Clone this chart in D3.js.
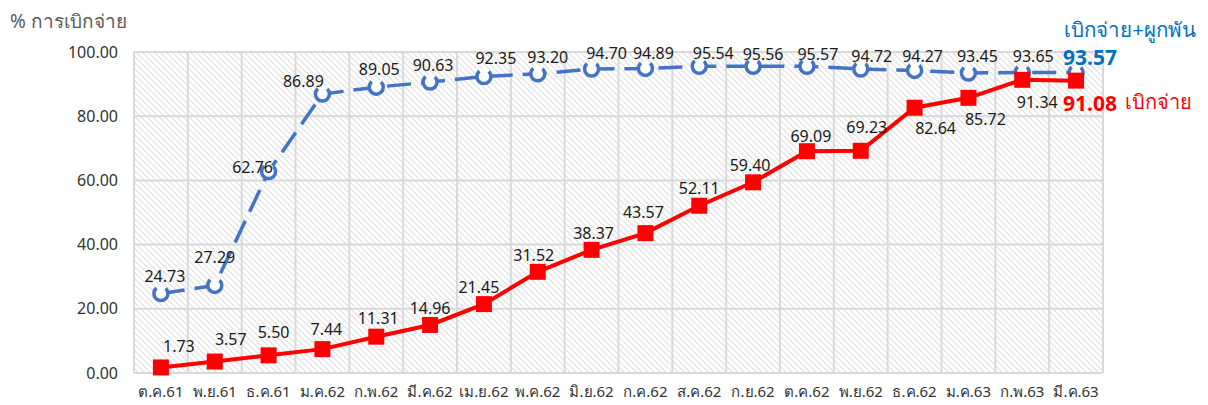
<!DOCTYPE html>
<html><head><meta charset="utf-8">
<script src="https://cdn.jsdelivr.net/npm/d3@7"></script>
<style>
html,body{margin:0;padding:0;background:#fff;}
text{font-family:"Noto Sans","DejaVu Sans",sans-serif;}
</style></head><body>
<svg id="c" width="1208" height="405"></svg>
<script>
const categories = ["ต.ค.61","พ.ย.61","ธ.ค.61","ม.ค.62","ก.พ.62","มี.ค.62","เม.ย.62","พ.ค.62","มิ.ย.62","ก.ค.62","ส.ค.62","ก.ย.62","ต.ค.62","พ.ย.62","ธ.ค.62","ม.ค.63","ก.พ.63","มี.ค.63"];
const disbursed = [1.73,3.57,5.50,7.44,11.31,14.96,21.45,31.52,38.37,43.57,52.11,59.40,69.09,69.23,82.64,85.72,91.34,91.08];
const disbursedCommitted = [24.73,27.29,62.76,86.89,89.05,90.63,92.35,93.20,94.70,94.89,95.54,95.56,95.57,94.72,94.27,93.45,93.65,93.57];
const yTicks = [0,20,40,60,80,100];
const yTitle = "% การเบิกจ่าย";
const seriesNames = ["เบิกจ่าย","เบิกจ่าย+ผูกพัน"];

// label placement (styling)
const redOff = [[18,-21],[16,-23],[5,-23],[4,-20],[2,-19],[0,-17],[-5,-17],[-4,-17],[2,-17],[-2,-21],[0,-18],[-3,-17],[4,-15],[6,-24],[21,20],[17,21],[15,22],[14,22]];
const blueOff = [[4,-18],[0,-28],[-16,-5],[-19,-13],[3,-18],[3,-17],[12,-19],[10,-17],[15,-16],[8,-15],[14,-13],[10,-12],[11,-12],[11,-13],[8,-14],[9,-17],[11,-16],[14,-16]];

const svg = d3.select("#c");
const L=134, R=1103, T=52, B=373;
const x = d3.scaleBand().domain(categories).range([L,R]).paddingInner(0).paddingOuter(0);
const y = d3.scaleLinear().domain([0,100]).range([B,T]);
const cx = c => x(c) + x.bandwidth()/2;

const defs = svg.append("defs");
const pat = defs.append("pattern").attr("id","hatch").attr("patternUnits","userSpaceOnUse").attr("width",6).attr("height",6);
pat.append("rect").attr("width",6).attr("height",6).attr("fill","#fff");
pat.append("path").attr("d","M-1,-1L7,7M-1,5L1,7M5,-1L7,1").attr("stroke","#e0e0e0").attr("stroke-width",1.2);

svg.append("rect").attr("x",L).attr("y",T).attr("width",R-L).attr("height",B-T).attr("fill","url(#hatch)");

// gridlines
const g = svg.append("g");
g.selectAll(".hg").data(yTicks).join("line").attr("x1",L).attr("x2",R).attr("y1",d=>y(d)).attr("y2",d=>y(d)).attr("stroke","#d9d9d9").attr("stroke-width",2);
const vlines = categories.map(c=>x(c)).concat([R]);
g.selectAll(".vg").data(vlines).join("line").attr("x1",d=>d).attr("x2",d=>d).attr("y1",T).attr("y2",B).attr("stroke","#d9d9d9").attr("stroke-width",2);

// axes
const yAxis = d3.axisLeft(y).tickValues(yTicks).tickFormat(d3.format(".2f")).tickSize(0).tickPadding(16);
const ya = svg.append("g").attr("transform",`translate(${L},0)`).call(yAxis);
ya.select(".domain").remove();
ya.selectAll("text").attr("font-size",16).attr("fill","#333333");

const xAxis = d3.axisBottom(x).tickSize(0).tickPadding(13);
const xa = svg.append("g").attr("transform",`translate(0,${B})`).call(xAxis);
xa.select(".domain").remove();
xa.selectAll("text").attr("font-size",15).attr("fill","#333333");

svg.append("text").attr("x",10).attr("y",28).attr("font-size",19).attr("fill","#595959").text(yTitle);

// blue dashed line
const line = d3.line().x((d,i)=>cx(categories[i])).y(d=>y(d));
svg.append("path").datum(disbursedCommitted).attr("d",line).attr("fill","none").attr("stroke","#4472c4").attr("stroke-width",3.5).attr("stroke-dasharray","24,10");
svg.selectAll(".bm").data(disbursedCommitted).join("circle")
  .attr("cx",(d,i)=>cx(categories[i])).attr("cy",d=>y(d)).attr("r",7)
  .attr("fill","#fff").attr("stroke","#4472c4").attr("stroke-width",3.5)
  .attr("stroke-dasharray","34,10").attr("stroke-dashoffset",6);

// red line
svg.append("path").datum(disbursed).attr("d",line).attr("fill","none").attr("stroke","#ff0000").attr("stroke-width",4);
const ms=16;
svg.selectAll(".rm").data(disbursed).join("rect")
  .attr("x",(d,i)=>cx(categories[i])-ms/2).attr("y",d=>y(d)-ms/2).attr("width",ms).attr("height",ms)
  .attr("fill","#ff0000");

const last = categories.length-1;
// labels
svg.selectAll(".bl").data(disbursedCommitted).join("text")
  .attr("x",(d,i)=>cx(categories[i])+blueOff[i][0]).attr("y",(d,i)=>y(d)+blueOff[i][1])
  .attr("text-anchor","middle").attr("dominant-baseline","central")
  .attr("font-size",(d,i)=>i===last?21:16).attr("font-weight",(d,i)=>i===last?"bold":"normal")
  .attr("fill",(d,i)=>i===last?"#0070c0":"#1a1a1a").text(d=>d3.format(".2f")(d));
svg.selectAll(".rl").data(disbursed).join("text")
  .attr("x",(d,i)=>cx(categories[i])+redOff[i][0]).attr("y",(d,i)=>y(d)+redOff[i][1])
  .attr("text-anchor","middle").attr("dominant-baseline","central")
  .attr("font-size",(d,i)=>i===last?21:16).attr("font-weight",(d,i)=>i===last?"bold":"normal")
  .attr("fill",(d,i)=>i===last?"#ff0000":"#1a1a1a").text(d=>d3.format(".2f")(d));

// series name labels
svg.append("text").attr("x",1196).attr("y",29).attr("text-anchor","end").attr("dominant-baseline","central").attr("font-size",20.5).attr("fill","#0070c0").text(seriesNames[1]);
svg.append("text").attr("x",1125).attr("y",101).attr("text-anchor","start").attr("dominant-baseline","central").attr("font-size",20).attr("fill","#ff0000").text(seriesNames[0]);
</script></body></html>
